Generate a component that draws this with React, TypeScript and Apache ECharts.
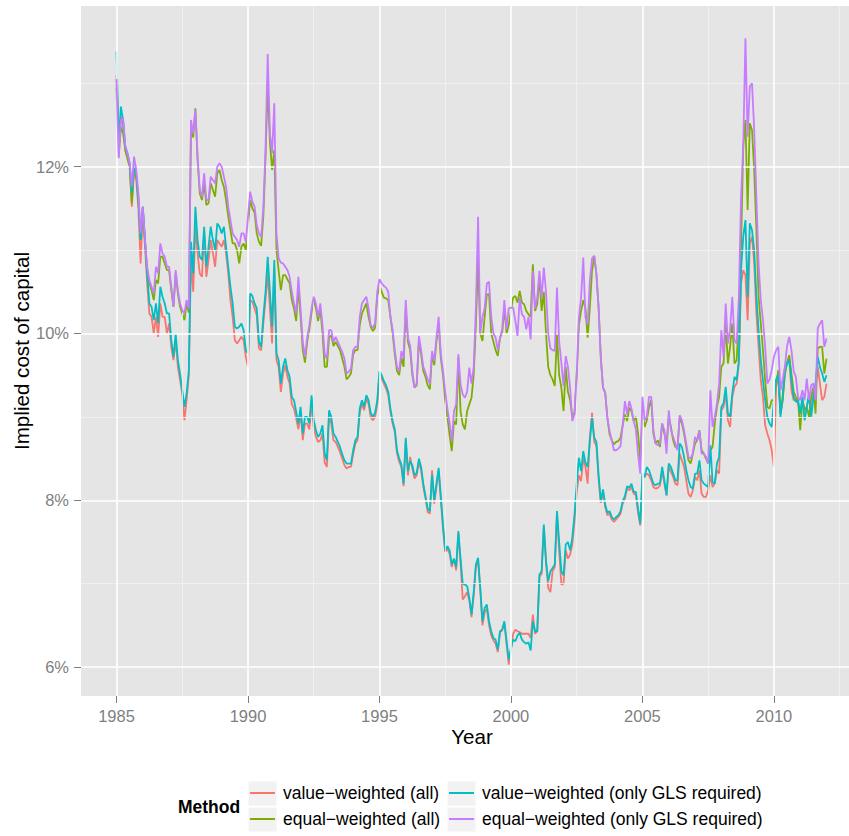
import React, { useEffect, useRef } from "react";
import * as echarts from "echarts";

// Monthly observations, January 1985 onwards (one value per month)
const START_YEAR = 1985;

const SERIES_NAMES = [
  "value\u2212weighted (all)",
  "equal\u2212weighted (all)",
  "value\u2212weighted (only GLS required)",
  "equal\u2212weighted (only GLS required)",
];

const vwAll = [
  13.1, 12.2, 12.6, 12.5, 12.2, 12.1, 12.0, 11.52, 11.95, 11.85, 11.5, 10.84,
  11.44, 11.04, 10.6, 10.24, 10.2, 10.0, 10.2, 9.96, 10.36, 10.2, 10.2, 10.0,
  10.12, 9.84, 9.68, 9.92, 9.6, 9.44, 9.28, 8.96, 9.2, 9.5, 10.9, 10.5,
  11.28, 10.96, 10.72, 10.68, 11.2, 10.68, 10.88, 11.12, 10.96, 10.8, 11.12, 11.08,
  11.04, 11.12, 10.96, 10.72, 10.4, 10.2, 9.92, 9.88, 9.92, 9.96, 9.92, 9.72,
  9.6, 10.4, 10.38, 10.3, 10.22, 9.82, 9.8, 10.12, 10.4, 10.72, 10.3, 9.88,
  10.8, 9.68, 9.6, 9.3, 9.52, 9.62, 9.48, 9.4, 9.15, 9.1, 8.98, 8.85,
  9.05, 8.72, 8.92, 8.92, 8.85, 9.16, 8.88, 8.76, 8.7, 8.72, 8.8, 8.45,
  8.4, 9.0, 8.92, 8.72, 8.7, 8.64, 8.58, 8.5, 8.42, 8.38, 8.4, 8.4,
  8.55, 8.68, 8.72, 9.05, 9.16, 9.08, 9.22, 9.16, 9.0, 8.96, 9.0, 9.15,
  9.52, 9.46, 9.4, 9.34, 9.26, 9.06, 8.92, 8.82, 8.56, 8.46, 8.4, 8.17,
  8.72, 8.3, 8.52, 8.38, 8.26, 8.3, 8.46, 8.36, 8.16, 8.02, 7.86, 7.84,
  8.36, 7.96, 8.16, 8.35, 8.0, 7.66, 7.38, 7.42, 7.36, 7.2, 7.3, 7.16,
  7.6, 7.25, 6.81, 6.85, 6.9, 6.8, 6.6, 6.86, 7.2, 7.28, 6.92, 6.5,
  6.66, 6.7, 6.5, 6.38, 6.32, 6.28, 6.18, 6.42, 6.44, 6.52, 6.28, 6.03,
  6.2, 6.4, 6.45, 6.43, 6.42, 6.4, 6.4, 6.4, 6.4, 6.35, 6.63, 6.4,
  6.43, 7.08, 7.12, 7.68, 7.25, 6.95, 6.9, 7.15, 7.2, 7.82, 7.4, 6.99,
  7.0, 7.4, 7.3, 7.35, 7.47, 7.75, 8.1, 8.3, 8.23, 8.5, 8.4, 8.2,
  8.75, 9.05, 8.7, 8.65, 8.25, 7.97, 8.1, 7.92, 7.82, 7.84, 7.77, 7.74,
  7.77, 7.8, 7.84, 7.96, 8.02, 8.14, 8.12, 8.16, 8.08, 8.06, 7.85, 7.7,
  8.28, 8.28, 8.32, 8.3, 8.24, 8.16, 8.14, 8.15, 8.18, 8.36, 8.2, 8.06,
  8.4, 8.34, 8.28, 8.2, 8.18, 8.56, 8.48, 8.4, 8.24, 8.08, 8.04, 8.12,
  8.28, 8.24, 8.36, 8.08, 8.04, 8.04, 8.12, 8.3, 8.16, 8.2, 8.36, 8.32,
  9.08, 9.12, 9.28, 8.96, 8.88, 9.24, 9.36, 9.4, 9.64, 10.6, 10.76, 10.7,
  10.16, 11.08, 11.16, 10.84, 10.24, 9.84, 9.44, 9.24, 8.9, 8.8, 8.72, 8.6,
  8.4, 9.36, 9.5, 9.04, 9.2, 9.6, 9.66, 9.68, 9.32, 9.2, 9.22, 9.16,
  9.04, 9.2, 9.08, 9.12, 9.24, 9.04, 9.32, 9.38, 9.6, 9.4, 9.2, 9.24,
  9.4,
];

const ewAll = [
  12.95, 12.12, 12.48, 12.4, 12.2, 12.1, 12.0, 11.56, 12.0, 11.9, 11.6, 11.12,
  11.52, 11.12, 10.72, 10.6, 10.52, 10.4, 10.64, 10.6, 10.92, 10.92, 10.84, 10.76,
  10.76, 10.52, 10.32, 10.72, 10.48, 10.32, 10.24, 10.16, 10.36, 10.25, 12.45, 12.35,
  12.7, 12.08, 11.68, 11.6, 11.8, 11.54, 11.56, 11.8, 11.72, 11.64, 11.92, 11.96,
  11.84, 11.76, 11.6, 11.4, 11.24, 11.08, 11.08, 11.0, 10.84, 11.04, 11.08, 11.0,
  11.3, 11.6, 11.5, 11.45, 11.2, 11.1, 11.05, 11.4, 12.1, 13.0, 12.3, 11.96,
  12.2, 11.0, 10.75, 10.52, 10.7, 10.7, 10.65, 10.6, 10.4, 10.3, 10.15, 10.55,
  10.2, 9.8, 9.65, 9.9, 10.05, 10.25, 10.4, 10.3, 10.15, 10.3, 10.0, 9.6,
  9.6, 9.95, 9.98, 9.85, 9.9, 9.85, 9.8, 9.7, 9.6, 9.45, 9.48, 9.52,
  9.75, 9.8, 9.8, 10.1, 10.24, 10.3, 10.36, 10.2, 10.08, 10.03, 10.07, 10.45,
  10.57, 10.5, 10.43, 10.42, 10.4, 10.2, 10.0, 9.75, 9.55, 9.5, 9.71, 9.6,
  10.3, 9.9, 9.8, 9.5, 9.35, 9.38, 9.92, 9.75, 9.55, 9.48, 9.38, 9.33,
  9.75, 9.62, 9.9, 10.1, 9.7, 9.5, 9.2, 9.0, 8.78, 8.59, 8.95, 8.91,
  9.71, 9.07, 8.91, 8.85, 9.07, 9.15, 9.23, 9.5, 10.1, 10.9, 10.0, 9.91,
  10.2, 10.47, 10.47, 10.0, 9.9, 9.8, 9.73, 9.95, 10.0, 10.31, 10.0, 10.1,
  10.27, 10.43, 10.45, 10.37, 10.51, 10.37, 10.35, 10.27, 10.23, 10.2, 10.83, 10.27,
  10.35, 10.67, 10.27, 10.5, 10.0, 9.6, 9.5, 9.45, 9.37, 9.99, 9.5, 9.35,
  9.07, 9.6, 9.3, 9.2, 9.0, 9.05, 9.5, 10.1, 10.27, 10.4, 10.3, 9.95,
  10.31, 10.75, 10.93, 10.71, 10.31, 9.71, 9.35, 9.29, 8.99, 8.79, 8.72, 8.67,
  8.7, 8.71, 8.75, 8.9, 9.03, 8.95, 9.11, 9.07, 8.95, 9.0, 8.8, 8.48,
  9.04, 8.88, 8.96, 9.12, 9.2, 8.8, 8.68, 8.72, 8.64, 8.92, 8.8, 8.68,
  9.0, 8.88, 8.72, 8.64, 8.64, 9.0, 8.92, 8.8, 8.64, 8.48, 8.44, 8.56,
  8.68, 8.72, 8.84, 8.6, 8.56, 8.5, 8.44, 8.6, 8.64, 8.92, 9.12, 9.24,
  9.6, 9.64, 10.12, 9.64, 9.84, 10.12, 9.64, 9.68, 10.2, 11.04, 12.24, 12.56,
  11.48, 12.52, 12.44, 11.96, 11.24, 10.44, 10.12, 9.8, 9.44, 9.12, 9.1, 9.2,
  9.2, 9.4, 9.56, 9.04, 9.2, 9.5, 9.65, 9.74, 9.52, 9.3, 9.24, 9.2,
  8.84, 9.2, 9.08, 9.12, 9.0, 9.24, 9.36, 9.04, 9.82, 9.84, 9.84, 9.52,
  9.7,
];

const vwGls = [
  13.38, 12.3, 12.72, 12.56, 12.24, 12.16, 12.04, 11.68, 12.0, 11.92, 11.6, 11.12,
  11.52, 11.12, 10.72, 10.36, 10.32, 10.16, 10.36, 10.12, 10.56, 10.44, 10.36, 10.24,
  10.24, 9.92, 9.72, 10.0, 9.68, 9.52, 9.32, 9.12, 9.28, 9.55, 11.1, 10.72,
  11.52, 11.12, 10.92, 10.88, 11.28, 10.8, 11.04, 11.28, 11.12, 11.0, 11.32, 11.28,
  11.2, 11.28, 11.04, 10.8, 10.56, 10.36, 10.08, 10.06, 10.08, 10.12, 10.04, 9.8,
  9.76, 10.48, 10.45, 10.36, 10.3, 9.9, 9.84, 10.2, 10.5, 10.92, 10.5, 10.08,
  10.88, 9.76, 9.68, 9.4, 9.6, 9.7, 9.56, 9.48, 9.24, 9.2, 9.06, 8.92,
  9.12, 8.8, 9.0, 9.0, 8.92, 9.26, 8.96, 8.84, 8.76, 8.8, 8.9, 8.56,
  8.48, 9.08, 9.0, 8.8, 8.76, 8.7, 8.64, 8.55, 8.48, 8.44, 8.44, 8.44,
  8.6, 8.72, 8.76, 9.1, 9.2, 9.12, 9.26, 9.2, 9.05, 9.0, 9.05, 9.2,
  9.55, 9.5, 9.43, 9.38, 9.3, 9.1, 8.95, 8.85, 8.6, 8.5, 8.43, 8.2,
  8.75, 8.35, 8.47, 8.42, 8.3, 8.33, 8.5, 8.4, 8.2, 8.05, 7.9, 7.87,
  8.31, 8.0, 8.2, 8.39, 8.05, 7.7, 7.4, 7.45, 7.4, 7.23, 7.3, 7.2,
  7.63, 7.3, 7.0, 6.99, 6.97, 6.83, 6.63, 6.9, 7.23, 7.31, 6.95, 6.55,
  6.71, 6.75, 6.55, 6.43, 6.35, 6.33, 6.21, 6.43, 6.45, 6.55, 6.31, 6.09,
  6.23, 6.33, 6.31, 6.38, 6.41, 6.33, 6.3, 6.28, 6.3, 6.2, 6.55, 6.43,
  6.43, 7.11, 7.15, 7.71, 7.27, 7.03, 7.15, 7.19, 7.23, 7.87, 7.5, 7.15,
  7.1, 7.47, 7.5, 7.4, 7.55, 7.83, 8.19, 8.51, 8.35, 8.59, 8.45, 8.4,
  8.71, 8.99, 8.75, 8.7, 8.3, 7.99, 8.13, 7.95, 7.85, 7.87, 7.8, 7.77,
  7.8, 7.82, 7.87, 7.99, 8.05, 8.17, 8.15, 8.2, 8.1, 8.1, 7.9, 7.72,
  8.32, 8.28, 8.4, 8.36, 8.28, 8.2, 8.18, 8.2, 8.2, 8.4, 8.24, 8.06,
  8.44, 8.4, 8.32, 8.24, 8.24, 8.68, 8.64, 8.52, 8.36, 8.24, 8.16, 8.14,
  8.32, 8.32, 8.48, 8.24, 8.2, 8.18, 8.16, 8.66, 8.22, 8.2, 8.44, 8.52,
  9.12, 9.16, 9.36, 9.04, 9.0, 9.28, 9.48, 9.44, 9.68, 10.76, 11.16, 11.36,
  10.44, 11.32, 11.24, 11.0, 10.44, 10.04, 9.68, 9.44, 9.2, 9.0, 8.92, 8.88,
  9.2, 9.45, 9.5, 9.0, 9.25, 9.56, 9.64, 9.68, 9.44, 9.24, 9.18, 9.2,
  9.04, 9.24, 8.96, 9.12, 9.28, 9.0, 9.22, 9.4, 9.72, 9.6, 9.52, 9.42,
  9.5,
];

const ewGls = [
  13.05, 12.1, 12.56, 12.58, 12.25, 12.16, 12.04, 11.76, 12.12, 11.96, 11.68, 11.2,
  11.52, 11.12, 10.8, 10.64, 10.56, 10.48, 10.8, 10.72, 11.08, 10.96, 10.92, 10.8,
  10.8, 10.56, 10.32, 10.76, 10.52, 10.36, 10.28, 10.24, 10.4, 10.3, 12.56, 12.4,
  12.68, 12.12, 11.72, 11.64, 11.92, 11.6, 11.6, 11.88, 11.84, 11.8, 12.0, 12.04,
  12.0, 11.88, 11.76, 11.52, 11.36, 11.2, 11.16, 11.12, 11.04, 11.2, 11.2, 11.1,
  11.4, 11.7, 11.58, 11.52, 11.3, 11.2, 11.16, 11.5, 12.2, 13.35, 12.4, 12.16,
  12.76, 11.2, 10.9, 10.85, 10.84, 10.8, 10.76, 10.68, 10.5, 10.36, 10.24, 10.68,
  10.3, 9.9, 9.72, 9.95, 10.1, 10.3, 10.44, 10.36, 10.2, 10.36, 10.1, 9.75,
  9.7, 10.04, 10.04, 9.9, 9.96, 9.9, 9.84, 9.78, 9.7, 9.52, 9.54, 9.58,
  9.8, 9.84, 9.84, 10.2, 10.36, 10.4, 10.44, 10.3, 10.1, 10.07, 10.12, 10.5,
  10.65, 10.6, 10.57, 10.55, 10.5, 10.2, 10.05, 9.8, 9.6, 9.55, 9.79, 9.7,
  10.4, 9.95, 9.85, 9.55, 9.35, 9.4, 9.97, 9.8, 9.6, 9.53, 9.45, 9.4,
  9.79, 9.67, 9.95, 10.2, 9.75, 9.55, 9.3, 9.1, 8.93, 8.71, 9.07, 9.15,
  9.75, 9.39, 9.27, 9.23, 9.3, 9.59, 9.4, 9.6, 10.3, 11.4, 10.0, 10.2,
  10.3, 10.6, 10.62, 10.2, 10.0, 9.95, 9.8, 9.95, 10.05, 10.4, 10.05, 10.3,
  10.31, 10.31, 10.15, 9.97, 10.43, 10.23, 10.2, 10.05, 10.2, 9.93, 10.75, 10.3,
  10.43, 10.75, 10.43, 10.79, 10.5, 10.0, 9.82, 9.8, 9.79, 10.55, 9.9, 9.65,
  9.37, 9.73, 9.6, 9.35, 8.95, 9.03, 9.51, 10.19, 10.43, 10.91, 10.19, 10.11,
  10.63, 10.9, 10.93, 10.71, 10.31, 9.71, 9.35, 9.29, 8.99, 8.83, 8.72, 8.6,
  8.6, 8.62, 8.65, 8.9, 9.19, 9.03, 9.19, 9.1, 8.95, 8.85, 8.55, 8.32,
  9.24, 8.96, 9.0, 9.24, 9.24, 8.84, 8.68, 8.66, 8.68, 8.92, 8.84, 8.56,
  9.08, 8.84, 8.76, 8.68, 8.6, 9.02, 8.96, 8.84, 8.68, 8.52, 8.5, 8.56,
  8.76, 8.72, 8.84, 8.56, 8.56, 8.52, 8.44, 9.32, 8.88, 9.0, 9.16, 9.4,
  10.04, 9.72, 10.36, 9.88, 10.04, 10.44, 9.92, 9.88, 10.44, 11.64, 12.24, 13.54,
  12.36, 12.96, 13.0, 12.44, 11.64, 10.84, 10.4, 10.16, 9.84, 9.4, 9.45, 9.56,
  9.72, 9.8, 9.84, 9.32, 9.45, 9.6, 9.85, 9.96, 9.8, 9.55, 9.48, 9.24,
  9.2, 9.32, 9.2, 9.46, 9.2, 9.38, 9.4, 9.2, 10.06, 10.12, 10.16, 9.84,
  9.94,
];

const SERIES_VALUES = [vwAll, ewAll, vwGls, ewGls];
const COLORS = ["#F8766D", "#7CAE00", "#00BFC4", "#C77CFF"];

const X_MAJOR = [1985, 1990, 1995, 2000, 2005, 2010];
const X_MINOR = [1987.5, 1992.5, 1997.5, 2002.5, 2007.5, 2012.5];
const Y_MAJOR = [6, 8, 10, 12];
const Y_MINOR = [7, 9, 11, 13];

const FONT = '"Liberation Sans", Arial, Helvetica, sans-serif';

function toPairs(values: number[]) {
  return values.map((v, i) => [START_YEAR + i / 12, v]);
}

export default function App() {
  const ref = useRef<HTMLDivElement>(null);

  useEffect(() => {
    document.body.style.margin = "0";
    if (!ref.current) return;
    const chart = echarts.init(ref.current, undefined, { renderer: "svg" });

    const majorStyle = { color: "#FFFFFF", width: 1.6, type: "solid" as const };
    const minorStyle = { color: "#F2F2F2", width: 0.8, type: "solid" as const };

    const gridLines = [
      ...X_MINOR.map((v) => ({ xAxis: v, lineStyle: minorStyle })),
      ...Y_MINOR.map((v) => ({ yAxis: v, lineStyle: minorStyle })),
      ...X_MAJOR.map((v) => ({ xAxis: v, lineStyle: majorStyle })),
      ...Y_MAJOR.map((v) => ({ yAxis: v, lineStyle: majorStyle })),
    ];

    // legend key boxes, column-major like the original guide
    const keyBoxes = [
      { x: 248, y: 781 },
      { x: 248, y: 807 },
      { x: 447, y: 781 },
      { x: 447, y: 807 },
    ];

    const option: any = {
      animation: false,
      grid: {
        left: 81,
        top: 6,
        right: 0,
        bottom: 140,
        show: true,
        backgroundColor: "#E5E5E5",
        borderWidth: 0,
      },
      xAxis: {
        type: "value",
        min: 1983.65,
        max: 2012.855,
        splitLine: { show: false },
        axisLine: { show: false },
        axisTick: {
          show: true,
          customValues: X_MAJOR,
          length: 7,
          lineStyle: { color: "#7F7F7F", width: 1 },
        },
        axisLabel: {
          customValues: X_MAJOR,
          color: "#7F7F7F",
          fontSize: 16.5,
          fontFamily: FONT,
          margin: 11,
          formatter: (v: number) => String(v),
        },
      },
      yAxis: {
        type: "value",
        min: 5.654,
        max: 13.926,
        splitLine: { show: false },
        axisLine: { show: false },
        axisTick: {
          show: true,
          customValues: Y_MAJOR,
          length: 7,
          lineStyle: { color: "#7F7F7F", width: 1 },
        },
        axisLabel: {
          customValues: Y_MAJOR,
          color: "#7F7F7F",
          fontSize: 16.5,
          fontFamily: FONT,
          margin: 12,
          formatter: (v: number) => v + "%",
        },
      },
      legend: SERIES_NAMES.map((name, idx) => ({
        data: [name],
        left: keyBoxes[idx].x + 2,
        top: keyBoxes[idx].y + 3,
        icon: "rect",
        itemWidth: 25,
        itemHeight: 2,
        itemGap: 0,
        padding: 0,
        selectedMode: false,
        textStyle: {
          fontSize: 17.5,
          color: "#000000",
          fontFamily: FONT,
          padding: [0, 0, 0, 3],
        },
      })),
      graphic: [
        ...keyBoxes.map((b) => ({
          type: "rect",
          shape: { x: b.x, y: b.y, width: 29, height: 25 },
          style: { fill: "#F2F2F2", stroke: "#FFFFFF", lineWidth: 1 },
          z: -1,
        })),
        {
          type: "text",
          x: 209,
          y: 807,
          style: {
            text: "Method",
            fontSize: 17.5,
            fontWeight: "bold",
            fontFamily: FONT,
            fill: "#000000",
            align: "center",
            verticalAlign: "middle",
          },
        },
        {
          type: "text",
          x: 472,
          y: 736,
          style: {
            text: "Year",
            fontSize: 20.6,
            fontFamily: FONT,
            fill: "#000000",
            align: "center",
            verticalAlign: "middle",
          },
        },
        {
          type: "text",
          x: 21,
          y: 351,
          rotation: Math.PI / 2,
          style: {
            text: "Implied cost of capital",
            fontSize: 20.6,
            fontFamily: FONT,
            fill: "#000000",
            align: "center",
            verticalAlign: "middle",
          },
        },
      ],
      series: [
        {
          type: "line",
          data: [],
          silent: true,
          z: 1,
          markLine: {
            silent: true,
            symbol: ["none", "none"],
            label: { show: false },
            emphasis: { disabled: true },
            data: gridLines,
          },
        },
        ...SERIES_VALUES.map((vals, i) => ({
          type: "line",
          name: SERIES_NAMES[i],
          data: toPairs(vals),
          showSymbol: false,
          symbol: "none",
          z: 2 + i,
          lineStyle: { width: 1.8, color: COLORS[i] },
          itemStyle: { color: COLORS[i] },
          emphasis: { disabled: true },
        })),
      ],
    };

    chart.setOption(option);
    return () => chart.dispose();
  }, []);

  return <div ref={ref} style={{ width: 849, height: 836 }} />;
}
